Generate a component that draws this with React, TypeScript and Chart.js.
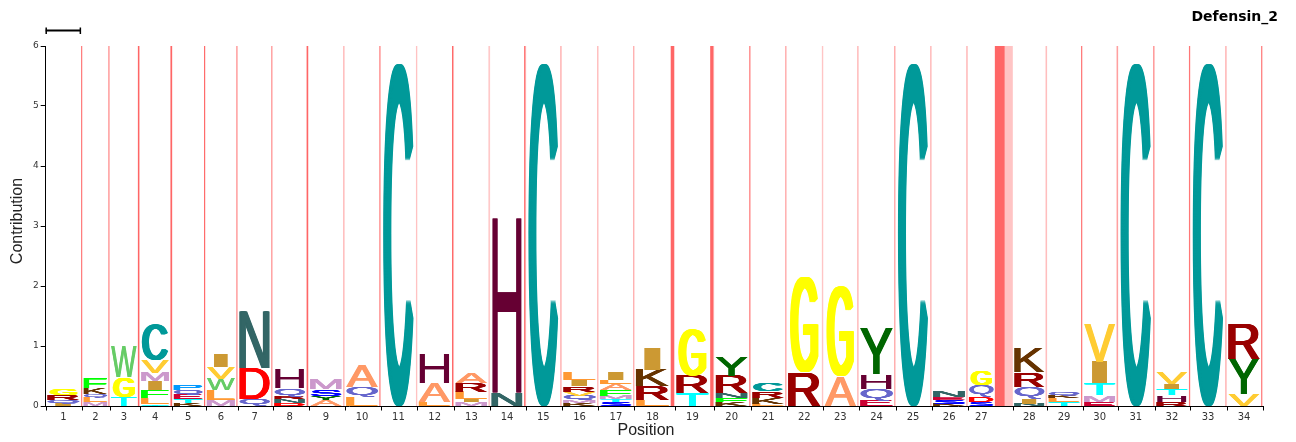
import React, { useEffect, useRef } from "react";
import { Chart, registerables } from "chart.js";

Chart.register(...registerables);

// ---------- DATA ----------
const positions = ["1","2","3","4","5","6","7","8","9","10","11","12","13","14","15","16","17","18","19","20","21","22","23","24","25","26","27","28","29","30","31","32","33","34"];

// width of each match column (model occupancy, 1 = full column)
const matchOccupancy = [1.01, 0.74, 0.80, 0.87, 0.90, 0.88, 0.95, 0.96, 0.99, 0.99, 1.00, 0.99, 0.99, 0.97, 0.98, 1.01, 0.99, 1.03, 1.01, 1.00, 0.99, 1.01, 0.98, 1.02, 0.99, 1.00, 0.77, 0.94, 0.97, 0.97, 1.00, 0.97, 1.00, 0.98];

// insert state after each column: probability (dark band) and expected length (light band)
const insertProbability = [0.026, 0.028, 0.045, 0.045, 0.028, 0.028, 0.017, 0.043, 0.011, 0.031, 0.011, 0.043, 0.011, 0.043, 0.011, 0.011, 0.014, 0.099, 0.099, 0.031, 0.011, 0.009, 0.009, 0.014, 0.011, 0.011, 0.284, 0.017, 0.028, 0.028, 0.028, 0.028, 0.011, 0.028];
const insertLength = [0.009, 0.009, 0.011, 0.011, 0.014, 0.014, 0.026, 0.014, 0.023, 0.011, 0.023, 0.014, 0.023, 0.014, 0.023, 0.023, 0.020, 0.014, 0.014, 0.011, 0.017, 0.020, 0.020, 0.020, 0.023, 0.017, 0.227, 0.017, 0.014, 0.014, 0.014, 0.014, 0.023, 0.014];

// residue contributions per column, bottom to top
const residueStacks: [string, number][][] = [
  [["I", 0.045], ["Q", 0.05], ["R", 0.09], ["G", 0.11]],
  [["M", 0.06], ["L", 0.08], ["Q", 0.06], ["K", 0.1], ["F", 0.16]],
  [["T", 0.15], ["G", 0.33], ["W", 0.52]],
  [["T", 0.03], ["L", 0.11], ["F", 0.13], ["I", 0.14], ["M", 0.14], ["V", 0.21], ["C", 0.58]],
  [["K", 0.05], ["T", 0.06], ["E", 0.08], ["Q", 0.07], ["P", 0.08]],
  [["M", 0.1], ["L", 0.17], ["W", 0.18], ["V", 0.2], ["I", 0.21]],
  [["Q", 0.12], ["D", 0.52], ["N", 0.93]],
  [["D", 0.05], ["N", 0.06], ["R", 0.05], ["Q", 0.14], ["H", 0.31]],
  [["A", 0.1], ["Y", 0.07], ["S", 0.11], ["M", 0.17]],
  [["L", 0.15], ["Q", 0.17], ["A", 0.35]],
  [["C", 5.71]],
  [["L", 0.07], ["A", 0.32], ["H", 0.49]],
  [["M", 0.06], ["I", 0.06], ["L", 0.12], ["R", 0.15], ["A", 0.16]],
  [["N", 0.21], ["H", 2.9]],
  [["C", 5.71]],
  [["K", 0.05], ["M", 0.05], ["Q", 0.07], ["V", 0.07], ["R", 0.09], ["I", 0.1], ["L", 0.12]],
  [["S", 0.06], ["T", 0.05], ["M", 0.06], ["F", 0.1], ["A", 0.1], ["L", 0.07], ["I", 0.12]],
  [["L", 0.1], ["R", 0.23], ["K", 0.27], ["I", 0.36]],
  [["T", 0.21], ["R", 0.3], ["G", 0.77]],
  [["K", 0.06], ["F", 0.07], ["N", 0.08], ["R", 0.29], ["Y", 0.31]],
  [["L", 0.03], ["K", 0.1], ["R", 0.11], ["C", 0.14]],
  [["R", 0.555], ["G", 1.585]],
  [["A", 0.49], ["G", 1.5]],
  [["E", 0.1], ["Q", 0.19], ["H", 0.24], ["Y", 0.77]],
  [["C", 5.71]],
  [["K", 0.03], ["S", 0.07], ["E", 0.05], ["N", 0.1]],
  [["S", 0.06], ["D", 0.09], ["Q", 0.2], ["G", 0.25]],
  [["N", 0.04], ["I", 0.08], ["Q", 0.2], ["R", 0.24], ["K", 0.41]],
  [["T", 0.06], ["L", 0.07], ["K", 0.04], ["Q", 0.05]],
  [["E", 0.07], ["M", 0.11], ["T", 0.2], ["I", 0.36], ["V", 0.64]],
  [["C", 5.71]],
  [["R", 0.07], ["H", 0.11], ["T", 0.11], ["I", 0.08], ["V", 0.18]],
  [["C", 5.71]],
  [["V", 0.2], ["Y", 0.59], ["R", 0.59]],
];

const yTicks = [0, 1, 2, 3, 4, 5, 6];
const chartTitle = "Defensin_2";
const xTitle = "Position";
const yTitle = "Contribution";

// ---------- STYLE ----------
const residueColors: Record<string, string> = {
  A: "#ff9966", C: "#009999", D: "#ff0000", E: "#cc0033", F: "#00ff00",
  G: "#ffff00", H: "#660033", I: "#cc9933", K: "#663300", L: "#ff9933",
  M: "#cc99cc", N: "#336666", P: "#0099ff", Q: "#6666cc", R: "#990000",
  S: "#0000ff", T: "#00ffff", V: "#ffcc33", W: "#66cc66", Y: "#006600",
};
const inkFraction: Record<string, number> = { I: 0.46, G: 0.8, C: 0.87, H: 0.86 };
// horizontal thickening of strokes (fraction of glyph width)
const strokeSmear: Record<string, number> = { C: 0.14, G: 0.17, N: 0.08, D: 0.07, R: 0.09, H: 0.01, W: 0.03, I: 0 };
const GLYPH_FONT = '100px "Liberation Sans", Arial, sans-serif';
const MIN_BAND_PX = 1.3;

function columnLayout() {
  const cols: { start: number; end: number; insEnd1: number; insEnd2: number }[] = [];
  let pos = 0;
  for (let i = 0; i < matchOccupancy.length; i++) {
    const start = pos;
    const end = start + matchOccupancy[i];
    const insEnd1 = end + insertProbability[i];
    const insEnd2 = insEnd1 + insertLength[i];
    cols.push({ start, end, insEnd1, insEnd2 });
    pos = insEnd2;
  }
  return { cols, total: pos };
}

function drawGlyph(ctx: CanvasRenderingContext2D, ch: string, color: string, x0: number, x1: number, yTop: number, yBot: number) {
  const w = x1 - x0;
  const h = yBot - yTop;
  if (w <= 0 || h <= 0.2) return;
  const smear = w * (strokeSmear[ch] ?? 0.06);
  const gwPx = w - smear;
  ctx.save();
  ctx.font = GLYPH_FONT;
  ctx.textAlign = "left";
  ctx.textBaseline = "alphabetic";
  ctx.fillStyle = color;
  const m = ctx.measureText(ch);
  const gl = m.actualBoundingBoxLeft;
  const gw = m.actualBoundingBoxLeft + m.actualBoundingBoxRight;
  const ga = m.actualBoundingBoxAscent;
  const gh = m.actualBoundingBoxAscent + m.actualBoundingBoxDescent;
  const steps = Math.max(1, Math.ceil(smear / 0.5));
  for (let k = 0; k <= steps; k++) {
    const off = steps > 0 ? (smear * k) / steps : 0;
    ctx.save();
    ctx.translate(x0 + off, yTop);
    ctx.scale(gwPx / gw, h / gh);
    ctx.fillText(ch, gl, ga);
    ctx.restore();
  }
  ctx.restore();
}

export default function App() {
  const canvasRef = useRef<HTMLCanvasElement | null>(null);

  useEffect(() => {
    const canvas = canvasRef.current;
    if (!canvas) return;
    const { cols, total } = columnLayout();
    const centers = cols.map((c) => (c.start + c.end) / 2);

    const logoPlugin = {
      id: "hmmLogo",
      beforeDatasetsDraw(chart: any) {
        const { ctx, chartArea, scales } = chart;
        const x = scales.x;
        const hgt = chartArea.bottom - chartArea.top;
        ctx.save();
        cols.forEach((c) => {
          let a = x.getPixelForValue(c.end);
          let b = x.getPixelForValue(c.insEnd1);
          let d = x.getPixelForValue(c.insEnd2);
          const tot = d - a;
          if (tot < MIN_BAND_PX) {
            const mid = (a + d) / 2;
            const frac = (b - a) / tot;
            a = mid - MIN_BAND_PX / 2;
            d = mid + MIN_BAND_PX / 2;
            b = a + frac * (d - a);
          }
          ctx.fillStyle = "#ff6666";
          ctx.fillRect(a, chartArea.top, b - a, hgt);
          ctx.fillStyle = "#ffc4c4";
          ctx.fillRect(b, chartArea.top, d - b, hgt);
        });
        ctx.restore();
      },
      afterDatasetsDraw(chart: any) {
        const { ctx, scales } = chart;
        const x = scales.x;
        const y = scales.y;
        cols.forEach((c, i) => {
          const sx = x.getPixelForValue(c.start);
          const ex = x.getPixelForValue(c.end);
          const w = ex - sx;
          let acc = 0;
          residueStacks[i].forEach(([res, val]) => {
            const yb = y.getPixelForValue(acc);
            const yt = y.getPixelForValue(acc + val);
            acc += val;
            const f = inkFraction[res] ?? 0.92;
            const iw = w * f;
            const x0 = sx + (w - iw) / 2;
            drawGlyph(ctx, res, residueColors[res], x0, x0 + iw, yt, yb);
          });
        });
      },
      afterDraw(chart: any) {
        const { ctx, chartArea, scales } = chart;
        const x = scales.x;
        ctx.save();
        ctx.strokeStyle = "#000";
        ctx.lineWidth = 1;
        const marks = [0, ...cols.map((c) => c.insEnd2)];
        ctx.beginPath();
        marks.forEach((v) => {
          const px = Math.round(x.getPixelForValue(v)) + 0.5;
          ctx.moveTo(px, chartArea.bottom);
          ctx.lineTo(px, chartArea.bottom + 4.5);
        });
        ctx.stroke();
        const s0 = x.getPixelForValue(0);
        const s1 = x.getPixelForValue(1);
        ctx.lineWidth = 2;
        ctx.beginPath();
        ctx.moveTo(s0, 30.5);
        ctx.lineTo(s1, 30.5);
        ctx.stroke();
        ctx.lineWidth = 1.5;
        ctx.beginPath();
        ctx.moveTo(s0 + 0.5, 27.5);
        ctx.lineTo(s0 + 0.5, 34);
        ctx.moveTo(s1 - 0.5, 27.5);
        ctx.lineTo(s1 - 0.5, 34);
        ctx.stroke();
        ctx.fillStyle = "#000";
        ctx.font = 'bold 14px "DejaVu Sans", Verdana, sans-serif';
        ctx.textAlign = "right";
        ctx.textBaseline = "alphabetic";
        ctx.fillText(chartTitle, 1278, 21);
        ctx.fillStyle = "#222";
        ctx.font = '16px "Liberation Sans", Arial, sans-serif';
        ctx.textAlign = "center";
        ctx.textBaseline = "middle";
        ctx.fillText(xTitle, 646, 431);
        ctx.save();
        ctx.translate(18, 221);
        ctx.rotate(-Math.PI / 2);
        ctx.fillText(yTitle, 0, 0);
        ctx.restore();
        ctx.restore();
      },
    };

    const chart = new Chart(canvas, {
      type: "scatter",
      data: { datasets: [] },
      options: {
        animation: false,
        responsive: false,
        events: [],
        layout: { padding: { top: 46, right: 33.3, bottom: 0, left: 0 } },
        plugins: {
          legend: { display: false },
          tooltip: { enabled: false },
          title: { display: false },
        },
        scales: {
          x: {
            type: "linear",
            min: 0,
            max: total,
            afterFit: (s: any) => { s.height = 36; },
            afterBuildTicks: (s: any) => { s.ticks = centers.map((v) => ({ value: v })); },
            ticks: {
              autoSkip: false,
              maxRotation: 0,
              minRotation: 0,
              padding: 5,
              color: "#333",
              font: { family: '"DejaVu Sans", Verdana, sans-serif', size: 10 },
              callback: (_v: any, i: number) => positions[i],
            },
            grid: { display: false, drawTicks: false, tickLength: 0 },
            border: { display: true, color: "#000", width: 1 },
          },
          y: {
            type: "linear",
            min: yTicks[0],
            max: yTicks[yTicks.length - 1],
            afterFit: (s: any) => { s.width = 45.7; },
            afterBuildTicks: (s: any) => { s.ticks = yTicks.map((v) => ({ value: v })); },
            ticks: {
              padding: 2,
              color: "#333",
              font: { family: '"DejaVu Sans", Verdana, sans-serif', size: 9 },
              callback: (v: any) => String(v),
            },
            grid: { drawOnChartArea: false, drawTicks: true, tickLength: 5, color: "#000", tickColor: "#000" },
            border: { display: true, color: "#000", width: 1 },
          },
        },
      },
      plugins: [logoPlugin],
    } as any);

    return () => chart.destroy();
  }, []);

  return (
    <div style={{ position: "fixed", left: 0, top: 0, width: 1296, height: 442, background: "#fff" }}>
      <canvas ref={canvasRef} width={1296} height={442} style={{ display: "block", width: 1296, height: 442 }} />
    </div>
  );
}
